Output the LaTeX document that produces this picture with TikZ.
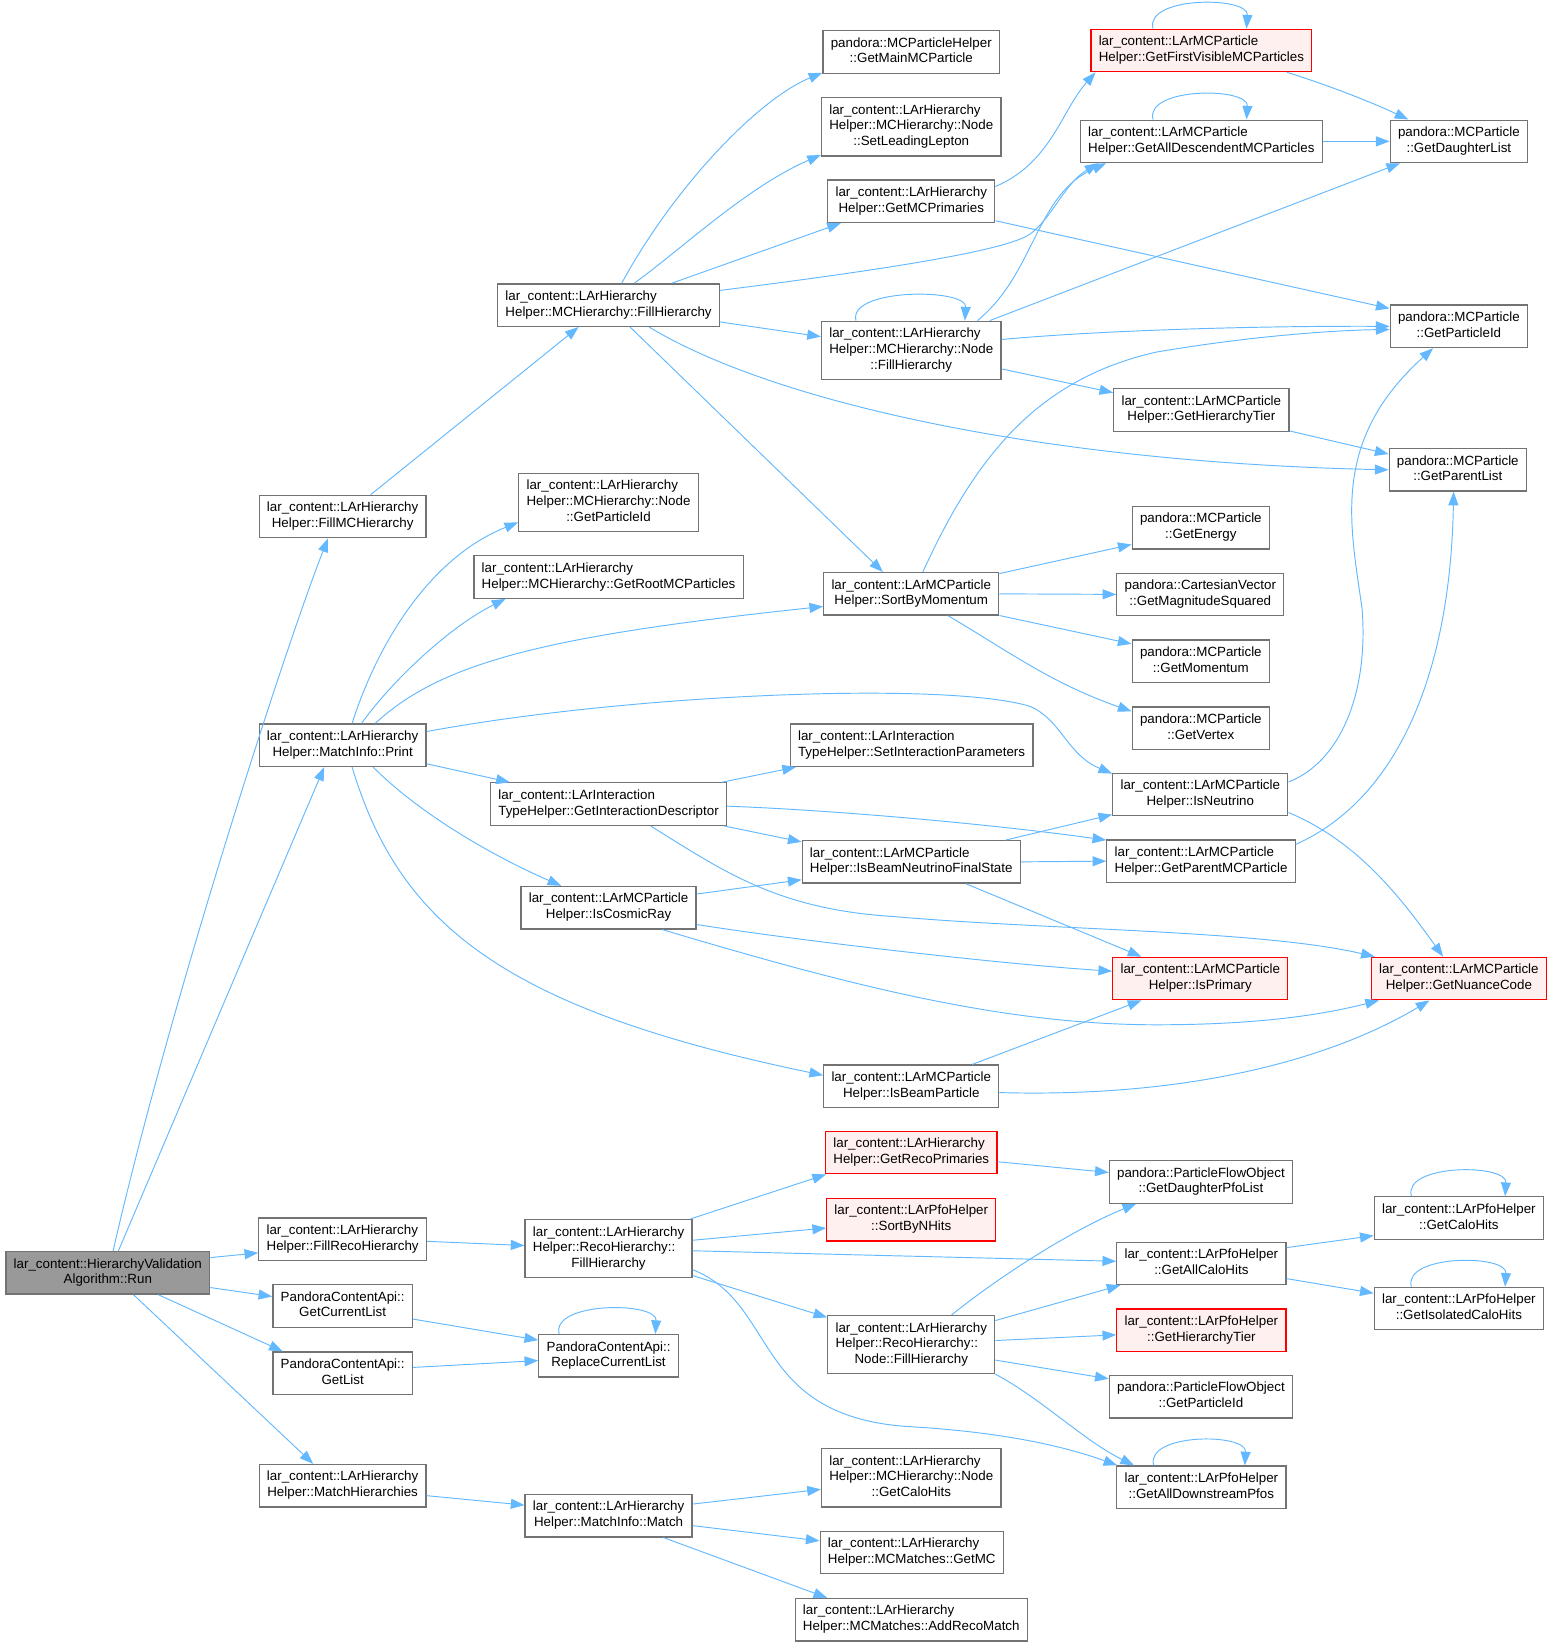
\documentclass[tikz,border=0pt]{standalone}
\usepackage{fontspec}
\setmainfont{Liberation Sans}
\usetikzlibrary{arrows.meta}
\definecolor{edgeblue}{HTML}{63B8FF}
\definecolor{boxgray}{HTML}{737373}
\definecolor{rungray}{HTML}{999999}
\definecolor{hotfill}{HTML}{FFF0F0}
\newcommand{\fnfont}{\fontsize{12.7}{15}\selectfont}
\newcommand{\twol}[2]{\begin{tabular}{@{}c@{}}\multicolumn{1}{@{}l@{}}{#1}\\#2\end{tabular}}
\newcommand{\threel}[3]{\begin{tabular}{@{}c@{}}\multicolumn{1}{@{}l@{}}{#1}\\\multicolumn{1}{@{}l@{}}{#2}\\#3\end{tabular}}
\tikzset{
  fn/.style={draw=boxgray, fill=white, line width=1.2pt, inner xsep=7.4pt, inner ysep=5.2pt, font=\fnfont},
  fnroot/.style={fn, fill=rungray},
  fnhot/.style={fn, draw=red, fill=hotfill},
  call/.style={draw=edgeblue, line width=0.9pt, -{Triangle[length=13pt,width=9.5pt]}}
}
\begin{document}
\begin{tikzpicture}[x=1pt,y=-1pt]
\useasboundingbox (0,0) rectangle (1478,1567);
\node[fnroot] (run) at (102.6,1211) {\twol{lar\_content::HierarchyValidation}{Algorithm::Run}};
\node[fn] (fillMC) at (326,491.5) {\twol{lar\_content::LArHierarchy}{Helper::FillMCHierarchy}};
\node[fn] (print) at (326,709) {\twol{lar\_content::LArHierarchy}{Helper::MatchInfo::Print}};
\node[fn] (fillReco) at (326,1179) {\twol{lar\_content::LArHierarchy}{Helper::FillRecoHierarchy}};
\node[fn] (getCur) at (326,1242.5) {\twol{PandoraContentApi::}{GetCurrentList}};
\node[fn] (getList) at (326,1306.5) {\twol{PandoraContentApi::}{GetList}};
\node[fn] (matchH) at (326,1413.5) {\twol{lar\_content::LArHierarchy}{Helper::MatchHierarchies}};
\node[fn] (mcFill) at (579,290.3) {\twol{lar\_content::LArHierarchy}{Helper::MCHierarchy::FillHierarchy}};
\node[fn] (nodePid) at (579,478) {\threel{lar\_content::LArHierarchy}{Helper::MCHierarchy::Node}{::GetParticleId}};
\node[fn] (rootMC) at (579,549) {\twol{lar\_content::LArHierarchy}{Helper::MCHierarchy::GetRootMCParticles}};
\node[fn] (interDesc) at (579,765) {\twol{lar\_content::LArInteraction}{TypeHelper::GetInteractionDescriptor}};
\node[fn] (cosmic) at (579,863.6) {\twol{lar\_content::LArMCParticle}{Helper::IsCosmicRay}};
\node[fn] (recoFill) at (579,1188) {\threel{lar\_content::LArHierarchy}{Helper::RecoHierarchy::}{FillHierarchy}};
\node[fn] (replace) at (579,1290) {\twol{PandoraContentApi::}{ReplaceCurrentList}};
\node[fn] (match) at (579,1442) {\twol{lar\_content::LArHierarchy}{Helper::MatchInfo::Match}};
\node[fn] (mainMC) at (867,49.4) {\twol{pandora::MCParticleHelper}{::GetMainMCParticle}};
\node[fn] (leadLep) at (867,120.6) {\threel{lar\_content::LArHierarchy}{Helper::MCHierarchy::Node}{::SetLeadingLepton}};
\node[fn] (mcPrim) at (867,191.5) {\twol{lar\_content::LArHierarchy}{Helper::GetMCPrimaries}};
\node[fn] (nodeFill) at (867,333.3) {\threel{lar\_content::LArHierarchy}{Helper::MCHierarchy::Node}{::FillHierarchy}};
\node[fn] (sortMom) at (867,565) {\twol{lar\_content::LArMCParticle}{Helper::SortByMomentum}};
\node[fn] (setInter) at (867.3,709) {\twol{lar\_content::LArInteraction}{TypeHelper::SetInteractionParameters}};
\node[fn] (beamNu) at (867,820) {\twol{lar\_content::LArMCParticle}{Helper::IsBeamNeutrinoFinalState}};
\node[fn] (beamPart) at (867,1033.5) {\twol{lar\_content::LArMCParticle}{Helper::IsBeamParticle}};
\node[fnhot] (recoPrim) at (867,1096.6) {\twol{lar\_content::LArHierarchy}{Helper::GetRecoPrimaries}};
\node[fnhot] (sortHits) at (867,1160.4) {\twol{lar\_content::LArPfoHelper}{::SortByNHits}};
\node[fn] (recoNode) at (867,1279.4) {\threel{lar\_content::LArHierarchy}{Helper::RecoHierarchy::}{Node::FillHierarchy}};
\node[fn] (nodeCalo) at (867,1406) {\threel{lar\_content::LArHierarchy}{Helper::MCHierarchy::Node}{::GetCaloHits}};
\node[fn] (getMC) at (867.5,1477) {\twol{lar\_content::LArHierarchy}{Helper::MCMatches::GetMC}};
\node[fn] (addReco) at (867,1541) {\twol{lar\_content::LArHierarchy}{Helper::MCMatches::AddRecoMatch}};
\node[fnhot] (firstVis) at (1143,48) {\twol{lar\_content::LArMCParticle}{Helper::GetFirstVisibleMCParticles}};
\node[fn] (allDesc) at (1143,134.5) {\twol{lar\_content::LArMCParticle}{Helper::GetAllDescendentMCParticles}};
\node[fn] (mcTier) at (1143,390) {\twol{lar\_content::LArMCParticle}{Helper::GetHierarchyTier}};
\node[fn] (energy) at (1142.5,502) {\twol{pandora::MCParticle}{::GetEnergy}};
\node[fn] (magSq) at (1142,565.5) {\twol{pandora::CartesianVector}{::GetMagnitudeSquared}};
\node[fn] (momentum) at (1142.5,629) {\twol{pandora::MCParticle}{::GetMomentum}};
\node[fn] (vertex) at (1142.5,692.8) {\twol{pandora::MCParticle}{::GetVertex}};
\node[fn] (isNu) at (1142,756) {\twol{lar\_content::LArMCParticle}{Helper::IsNeutrino}};
\node[fn] (parentMC) at (1142.7,819.3) {\twol{lar\_content::LArMCParticle}{Helper::GetParentMCParticle}};
\node[fnhot] (isPrim) at (1142,931) {\twol{lar\_content::LArMCParticle}{Helper::IsPrimary}};
\node[fn] (dauPfo) at (1142.6,1124.5) {\twol{pandora::ParticleFlowObject}{::GetDaughterPfoList}};
\node[fn] (allCalo) at (1143,1202) {\twol{lar\_content::LArPfoHelper}{::GetAllCaloHits}};
\node[fnhot] (pfoTier) at (1143,1265.5) {\twol{lar\_content::LArPfoHelper}{::GetHierarchyTier}};
\node[fn] (pfoPid) at (1142.6,1328.8) {\twol{pandora::ParticleFlowObject}{::GetParticleId}};
\node[fn] (downPfos) at (1143,1415) {\twol{lar\_content::LArPfoHelper}{::GetAllDownstreamPfos}};
\node[fn] (daughters) at (1388,134.5) {\twol{pandora::MCParticle}{::GetDaughterList}};
\node[fn] (partId) at (1388,310.5) {\twol{pandora::MCParticle}{::GetParticleId}};
\node[fn] (parents) at (1387,447) {\twol{pandora::MCParticle}{::GetParentList}};
\node[fnhot] (nuance) at (1388,931) {\twol{lar\_content::LArMCParticle}{Helper::GetNuanceCode}};
\node[fn] (caloHits) at (1388,1158.8) {\twol{lar\_content::LArPfoHelper}{::GetCaloHits}};
\node[fn] (isoHits) at (1388,1245) {\twol{lar\_content::LArPfoHelper}{::GetIsolatedCaloHits}};

\draw[call] ([xshift=5]run.north) .. controls (160,960) and (270,620) .. ([xshift=-14]fillMC.south);
\draw[call] ([xshift=10]run.north) -- ([xshift=-17.5]print.south);
\draw[call] ([yshift=14.5]run.east) -- ([yshift=-13]fillReco.west);
\draw[call] ([yshift=-14]run.east) -- ([yshift=9]getCur.west);
\draw[call] ([xshift=48]run.south) -- ([xshift=-57]getList.north);
\draw[call] ([xshift=24.4]run.south) -- ([xshift=-28]matchH.north);

\draw[call] ([xshift=26.6]fillMC.north) -- ([xshift=-28.5]mcFill.south);
\draw[call] ([xshift=12.5]mcFill.north) .. controls (640,180) and (720,95) .. ([yshift=1]mainMC.south west);
\draw[call] ([xshift=24.3]mcFill.north) .. controls (645,240) and (710,178) .. ([yshift=1.5]leadLep.south west);
\draw[call] ([xshift=60]mcFill.north) -- ([xshift=-67]mcPrim.south);
\draw[call] ([yshift=14]mcFill.east) .. controls (830,258) and (950,240) .. (978,224) .. controls (1000,210) and (1012,175) .. ([xshift=-98]allDesc.south);
\draw[call] ([yshift=-16]mcFill.east) -- ([yshift=13]nodeFill.west);
\draw[call] ([xshift=38.5]mcFill.south) .. controls (740,385) and (1000,440) .. (parents.west);
\draw[call] ([xshift=20.4]mcFill.south) -- ([xshift=-27]sortMom.north);

\draw[call] ([yshift=14]mcPrim.east) .. controls (1000,155) and (1010,105) .. ([xshift=5]firstVis.south west);
\draw[call] ([yshift=-18.5]mcPrim.east) -- ([yshift=17]partId.west);

\draw[call] ([xshift=-52.6]nodeFill.north) .. controls +(-8,-31) and +(2,-31) .. ([xshift=51]nodeFill.north);
\draw[call] ([xshift=63]nodeFill.north) .. controls (985,260) and (985,185) .. ([xshift=-90.6]allDesc.south);
\draw[call] ([xshift=74.7]nodeFill.north) -- ([xshift=-56]daughters.south);
\draw[call] ([yshift=10.3]nodeFill.east) .. controls (1050,314) and (1200,310) .. (partId.west);
\draw[call] ([yshift=-17.7]nodeFill.east) -- ([yshift=16.4]mcTier.west);

\draw[call] ([xshift=-46]firstVis.north) .. controls +(-8,-31) and +(2,-31) .. ([xshift=43]firstVis.north);
\draw[call] ([xshift=81.5]firstVis.south) .. controls (1260,80) and (1300,95) .. ([xshift=-48]daughters.north);
\draw[call] ([xshift=-46]allDesc.north) .. controls +(-8,-31) and +(2,-31) .. ([xshift=43]allDesc.north);
\draw[call] (allDesc.east) -- (daughters.west);
\draw[call] ([yshift=-20]mcTier.east) -- ([yshift=15]parents.west);

\draw[call] ([xshift=11]sortMom.north) .. controls (930,430) and (990,360) .. (1100,335) .. controls (1200,318) and (1280,314) .. ([yshift=-3]partId.west);
\draw[call] ([yshift=19.3]sortMom.east) -- ([yshift=-16]energy.west);
\draw[call] (sortMom.east) -- (magSq.west);
\draw[call] ([yshift=-20.6]sortMom.east) -- ([yshift=16.4]momentum.west);
\draw[call] ([xshift=35]sortMom.south) .. controls (960,620) and (1000,650) .. ([yshift=16]vertex.west);

\draw[call] ([xshift=9]print.north) .. controls (360,610) and (410,530) .. ([yshift=-19]nodePid.west);
\draw[call] ([xshift=18]print.north) .. controls (375,645) and (430,595) .. ([xshift=-98]rootMC.south);
\draw[call] ([xshift=31]print.north) .. controls (420,630) and (520,605) .. ([yshift=-12]sortMom.west);
\draw[call] ([yshift=13]print.east) .. controls (600,660) and (900,648) .. (980,672) .. controls (1010,685) and (1015,718) .. ([yshift=20]isNu.west);
\draw[call] ([yshift=-17.7]print.east) -- ([xshift=-94]interDesc.north);
\draw[call] ([xshift=29]print.south) .. controls (400,775) and (470,815) .. ([xshift=-45]cosmic.north);
\draw[call] ([xshift=9]print.south) .. controls (380,880) and (480,960) .. ([yshift=10.5]beamPart.west);

\draw[call] ([xshift=108]interDesc.north) -- ([xshift=-110]setInter.south);
\draw[call] ([yshift=-2]interDesc.east) .. controls (800,771) and (950,785) .. ([yshift=20]parentMC.west);
\draw[call] ([xshift=-3]interDesc.south east) -- ([yshift=19]beamNu.west);
\draw[call] ([xshift=40]interDesc.south) .. controls (690,830) and (740,865) .. (850,872) .. controls (1000,885) and (1200,885) .. ([xshift=-80]nuance.north);

\draw[call] ([yshift=13]cosmic.east) -- ([yshift=-17]beamNu.west);
\draw[call] ([yshift=-16]cosmic.east) .. controls (760,895) and (950,917) .. ([yshift=7]isPrim.west);
\draw[call] ([xshift=51]cosmic.south) .. controls (800,935) and (950,975) .. (1100,975) .. controls (1200,975) and (1260,965) .. ([xshift=-76]nuance.south);

\draw[call] ([xshift=90]beamNu.north) -- ([yshift=-19]isNu.west);
\draw[call] (beamNu.east) -- (parentMC.west);
\draw[call] ([xshift=52]beamNu.south) -- ([xshift=-56]isPrim.north);

\draw[call] ([yshift=12]isNu.east) .. controls (1275,725) and (1302,660) .. (1296,580) .. controls (1285,500) and (1265,420) .. ([xshift=-24.5]partId.south);
\draw[call] ([yshift=-17]isNu.east) .. controls (1290,800) and (1330,850) .. ([xshift=-15]nuance.north);
\draw[call] ([yshift=16]parentMC.east) .. controls (1330,760) and (1380,640) .. ([xshift=-4]parents.south);
\draw[call] ([xshift=58]beamPart.north) -- ([xshift=-56]isPrim.south);
\draw[call] ([yshift=-6]beamPart.east) .. controls (1150,1045) and (1280,1000) .. ([xshift=-28]nuance.south);

\draw[call] ([yshift=-2]fillReco.east) -- ([yshift=3]recoFill.west);
\draw[call] ([yshift=-12.5]getCur.east) -- ([yshift=15]replace.west);
\draw[call] ([yshift=5.5]getList.east) -- ([yshift=-4.5]replace.west);
\draw[call] ([xshift=-47]replace.north) .. controls +(-8,-31) and +(2,-31) .. ([xshift=44.5]replace.north);
\draw[call] ([yshift=-9.5]matchH.east) -- ([yshift=10]match.west);

\draw[call] ([xshift=-2]recoFill.north east) -- ([xshift=1]recoPrim.south west);
\draw[call] ([yshift=8]recoFill.east) -- ([yshift=-8]sortHits.west);
\draw[call] ([yshift=-2]recoFill.east) -- ([yshift=2]allCalo.west);
\draw[call] ([yshift=-25.6]recoFill.east) -- ([yshift=26]recoNode.west);
\draw[call] ([yshift=-20]recoFill.east) .. controls (740,1240) and (715,1345) .. (860,1357) .. controls (950,1362) and (1010,1375) .. ([xshift=-80]downPfos.north);

\draw[call] ([yshift=-8.7]recoPrim.east) -- ([yshift=9]dauPfo.west);
\draw[call] ([xshift=38.3]recoNode.north) .. controls (950,1215) and (1020,1170) .. ([xshift=-61.6]dauPfo.south);
\draw[call] ([yshift=23]recoNode.east) -- ([xshift=-77]allCalo.south);
\draw[call] ([yshift=4]recoNode.east) -- ([yshift=-4.5]pfoTier.west);
\draw[call] ([yshift=-14.6]recoNode.east) -- ([yshift=17]pfoPid.west);
\draw[call] ([yshift=-28]recoNode.east) .. controls (990,1330) and (1030,1370) .. ([xshift=-64]downPfos.north);
\draw[call] ([xshift=-45.4]downPfos.north) .. controls +(-8,-31) and +(2,-31) .. ([xshift=41.3]downPfos.north);

\draw[call] ([yshift=15]allCalo.east) -- ([yshift=-16.8]caloHits.west);
\draw[call] ([yshift=-14.5]allCalo.east) -- ([yshift=14.6]isoHits.west);
\draw[call] ([xshift=-45.2]caloHits.north) .. controls +(-8,-31) and +(2,-31) .. ([xshift=44]caloHits.north);
\draw[call] ([xshift=-45.2]isoHits.north) .. controls +(-8,-31) and +(2,-31) .. ([xshift=44]isoHits.north);

\draw[call] ([yshift=11]match.east) -- ([yshift=-11]nodeCalo.west);
\draw[call] ([yshift=-9.5]match.east) -- ([yshift=11]getMC.west);
\draw[call] ([xshift=52]match.south) -- ([xshift=-80]addReco.north);
\end{tikzpicture}
\end{document}
